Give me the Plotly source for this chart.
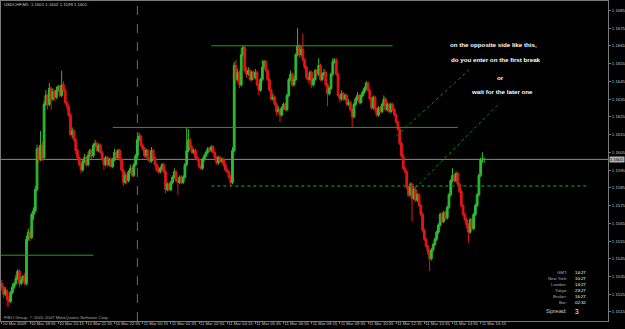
import pandas as pd
import plotly.graph_objects as go

# ---------------- data (prices in 1/10000 units, e.g. 11601 -> 1.1601) ----------------
start_time = "2009-03-10 17:35"

open_pips = [
    11531, 11529, 11525, 11527, 11522, 11521, 11526, 11529, 11531, 11534,
    11538, 11531, 11533, 11535, 11531, 11556, 11560, 11557, 11570, 11572,
    11584, 11607, 11601, 11609, 11602, 11632, 11637, 11632, 11641, 11635,
    11639, 11636, 11640, 11642, 11637, 11643, 11640, 11633, 11631, 11626,
    11615, 11617, 11612, 11606, 11602, 11598, 11595, 11600, 11602, 11598,
    11603, 11606, 11603, 11609, 11610, 11606, 11609, 11605, 11601, 11598,
    11602, 11598, 11601, 11597, 11601, 11605, 11602, 11606, 11601, 11595,
    11588, 11592, 11589, 11594, 11596, 11592, 11598, 11603, 11612, 11614,
    11609, 11607, 11603, 11606, 11601, 11600, 11606, 11602, 11598, 11595,
    11594, 11596, 11598, 11594, 11584, 11587, 11584, 11588, 11591, 11594,
    11589, 11588, 11591, 11588, 11591, 11598, 11606, 11612, 11608, 11605,
    11606, 11602, 11601, 11597, 11596, 11601, 11603, 11605, 11607, 11606,
    11608, 11605, 11602, 11599, 11602, 11600, 11601, 11598, 11595, 11594,
    11591, 11588, 11606, 11654, 11646, 11650, 11643, 11660, 11664, 11651,
    11649, 11651, 11646, 11650, 11647, 11650, 11643, 11640, 11646, 11653,
    11656, 11651, 11646, 11640, 11635, 11636, 11632, 11628, 11629, 11626,
    11630, 11632, 11629, 11637, 11646, 11649, 11643, 11646, 11660, 11665,
    11660, 11663, 11657, 11653, 11647, 11646, 11650, 11643, 11646, 11651,
    11649, 11654, 11646, 11649, 11650, 11643, 11638, 11641, 11649, 11656,
    11657, 11649, 11637, 11635, 11638, 11635, 11637, 11632, 11633, 11629,
    11625, 11632, 11635, 11637, 11633, 11637, 11639, 11641, 11644, 11640,
    11635, 11630, 11636, 11629, 11626, 11630, 11628, 11632, 11635, 11629,
    11632, 11628, 11632, 11629, 11626, 11622, 11618, 11610, 11603, 11596,
    11594, 11585, 11581, 11587, 11579, 11584, 11578, 11581, 11575, 11570,
    11561, 11556, 11552, 11549, 11545, 11550, 11553, 11556, 11560, 11564,
    11570, 11566, 11571, 11568, 11574, 11581, 11589, 11592, 11589, 11593,
    11587, 11583, 11575, 11570, 11567, 11564, 11560, 11567, 11562, 11570,
    11575, 11581, 11592, 11601, 11601,
]

high_pips = [
    11533, 11530, 11529, 11528, 11524, 11527, 11531, 11532, 11536, 11539,
    11539, 11535, 11536, 11537, 11558, 11562, 11563, 11571, 11574, 11586,
    11609, 11608, 11617, 11611, 11634, 11640, 11638, 11644, 11642, 11641,
    11640, 11642, 11643, 11643, 11651, 11645, 11641, 11634, 11632, 11627,
    11619, 11618, 11613, 11607, 11603, 11599, 11601, 11604, 11603, 11605,
    11607, 11607, 11610, 11612, 11611, 11610, 11610, 11606, 11602, 11603,
    11603, 11602, 11602, 11602, 11607, 11606, 11607, 11607, 11602, 11596,
    11594, 11593, 11595, 11598, 11597, 11599, 11604, 11614, 11616, 11615,
    11610, 11608, 11607, 11607, 11602, 11608, 11607, 11603, 11599, 11597,
    11597, 11599, 11599, 11595, 11588, 11588, 11589, 11592, 11596, 11595,
    11590, 11592, 11592, 11592, 11599, 11619, 11618, 11613, 11609, 11607,
    11607, 11603, 11602, 11598, 11602, 11604, 11606, 11608, 11608, 11609,
    11609, 11606, 11603, 11603, 11603, 11602, 11602, 11599, 11596, 11595,
    11592, 11608, 11656, 11657, 11652, 11651, 11664, 11665, 11665, 11653,
    11653, 11652, 11651, 11651, 11652, 11651, 11644, 11647, 11657, 11657,
    11657, 11652, 11647, 11641, 11638, 11637, 11633, 11631, 11630, 11631,
    11633, 11633, 11638, 11647, 11651, 11650, 11648, 11661, 11675, 11666,
    11665, 11672, 11658, 11654, 11648, 11651, 11651, 11647, 11652, 11652,
    11658, 11655, 11650, 11652, 11651, 11644, 11642, 11650, 11658, 11658,
    11658, 11650, 11638, 11640, 11639, 11638, 11638, 11635, 11634, 11630,
    11633, 11636, 11639, 11638, 11638, 11640, 11642, 11645, 11645, 11641,
    11636, 11637, 11637, 11630, 11631, 11631, 11633, 11637, 11636, 11633,
    11633, 11633, 11633, 11630, 11627, 11623, 11619, 11611, 11604, 11597,
    11595, 11586, 11588, 11588, 11586, 11585, 11582, 11582, 11576, 11571,
    11562, 11557, 11553, 11550, 11551, 11554, 11557, 11561, 11565, 11571,
    11571, 11572, 11572, 11575, 11582, 11590, 11596, 11593, 11594, 11594,
    11588, 11584, 11576, 11571, 11568, 11565, 11568, 11568, 11571, 11576,
    11582, 11593, 11602, 11605, 11602,
]

low_pips = [
    11527, 11523, 11524, 11518, 11518, 11520, 11525, 11528, 11530, 11533,
    11529, 11530, 11532, 11530, 11530, 11555, 11555, 11556, 11567, 11571,
    11583, 11599, 11600, 11600, 11601, 11631, 11629, 11631, 11629, 11634,
    11634, 11635, 11639, 11636, 11636, 11639, 11632, 11629, 11625, 11614,
    11613, 11611, 11604, 11601, 11597, 11593, 11594, 11599, 11597, 11597,
    11602, 11601, 11602, 11608, 11605, 11605, 11604, 11600, 11595, 11597,
    11597, 11597, 11596, 11596, 11600, 11601, 11601, 11600, 11594, 11586,
    11587, 11587, 11588, 11593, 11591, 11591, 11597, 11602, 11611, 11608,
    11606, 11602, 11602, 11600, 11599, 11599, 11601, 11597, 11594, 11593,
    11593, 11595, 11593, 11582, 11583, 11583, 11583, 11587, 11590, 11588,
    11581, 11587, 11587, 11587, 11590, 11597, 11605, 11607, 11604, 11604,
    11601, 11600, 11596, 11595, 11595, 11600, 11602, 11604, 11605, 11605,
    11604, 11601, 11598, 11598, 11599, 11599, 11597, 11594, 11593, 11590,
    11586, 11587, 11605, 11644, 11645, 11641, 11642, 11659, 11650, 11647,
    11648, 11645, 11645, 11646, 11646, 11642, 11637, 11639, 11645, 11652,
    11650, 11645, 11639, 11634, 11634, 11631, 11626, 11627, 11622, 11625,
    11629, 11628, 11628, 11636, 11645, 11642, 11642, 11645, 11659, 11658,
    11659, 11656, 11652, 11646, 11644, 11645, 11641, 11642, 11645, 11648,
    11648, 11645, 11645, 11648, 11642, 11631, 11637, 11640, 11648, 11655,
    11648, 11636, 11633, 11634, 11634, 11634, 11631, 11631, 11628, 11619,
    11624, 11631, 11634, 11632, 11632, 11636, 11638, 11640, 11639, 11634,
    11629, 11629, 11628, 11625, 11625, 11627, 11627, 11631, 11628, 11628,
    11627, 11627, 11628, 11625, 11621, 11617, 11609, 11602, 11595, 11593,
    11584, 11580, 11580, 11566, 11578, 11577, 11577, 11574, 11569, 11560,
    11555, 11551, 11547, 11538, 11544, 11549, 11552, 11555, 11559, 11563,
    11565, 11565, 11567, 11567, 11573, 11580, 11588, 11588, 11588, 11586,
    11582, 11574, 11569, 11566, 11562, 11554, 11559, 11561, 11561, 11569,
    11574, 11580, 11591, 11599, 11599,
]

close_pips = [
    11529, 11525, 11527, 11522, 11521, 11526, 11529, 11531, 11534, 11538,
    11531, 11533, 11535, 11531, 11556, 11560, 11557, 11570, 11572, 11584,
    11607, 11601, 11609, 11602, 11632, 11637, 11632, 11641, 11635, 11639,
    11636, 11640, 11642, 11637, 11643, 11640, 11633, 11631, 11626, 11615,
    11617, 11612, 11606, 11602, 11598, 11595, 11600, 11602, 11598, 11603,
    11606, 11603, 11609, 11610, 11606, 11609, 11605, 11601, 11598, 11602,
    11598, 11601, 11597, 11601, 11605, 11602, 11606, 11601, 11595, 11588,
    11592, 11589, 11594, 11596, 11592, 11598, 11603, 11612, 11614, 11609,
    11607, 11603, 11606, 11601, 11600, 11606, 11602, 11598, 11595, 11594,
    11596, 11598, 11594, 11584, 11587, 11584, 11588, 11591, 11594, 11589,
    11588, 11591, 11588, 11591, 11598, 11606, 11612, 11608, 11605, 11606,
    11602, 11601, 11597, 11596, 11601, 11603, 11605, 11607, 11606, 11608,
    11605, 11602, 11599, 11602, 11600, 11601, 11598, 11595, 11594, 11591,
    11588, 11606, 11654, 11646, 11650, 11643, 11660, 11664, 11651, 11649,
    11651, 11646, 11650, 11647, 11650, 11643, 11640, 11646, 11653, 11656,
    11651, 11646, 11640, 11635, 11636, 11632, 11628, 11629, 11626, 11630,
    11632, 11629, 11637, 11646, 11649, 11643, 11646, 11660, 11665, 11660,
    11663, 11657, 11653, 11647, 11646, 11650, 11643, 11646, 11651, 11649,
    11654, 11646, 11649, 11650, 11643, 11638, 11641, 11649, 11656, 11657,
    11649, 11637, 11635, 11638, 11635, 11637, 11632, 11633, 11629, 11625,
    11632, 11635, 11637, 11633, 11637, 11639, 11641, 11644, 11640, 11635,
    11630, 11636, 11629, 11626, 11630, 11628, 11632, 11635, 11629, 11632,
    11628, 11632, 11629, 11626, 11622, 11618, 11610, 11603, 11596, 11594,
    11585, 11581, 11587, 11579, 11584, 11578, 11581, 11575, 11570, 11561,
    11556, 11552, 11549, 11545, 11550, 11553, 11556, 11560, 11564, 11570,
    11566, 11571, 11568, 11574, 11581, 11589, 11592, 11589, 11593, 11587,
    11583, 11575, 11570, 11567, 11564, 11560, 11567, 11562, 11570, 11575,
    11581, 11592, 11601, 11601, 11601,
]

tick_times = [
    "2009-03-10 17:35", "2009-03-10 18:55", "2009-03-10 20:15", "2009-03-10 21:35",
    "2009-03-10 22:55", "2009-03-11 00:15", "2009-03-11 01:35", "2009-03-11 02:55",
    "2009-03-11 04:15", "2009-03-11 05:35", "2009-03-11 06:55", "2009-03-11 08:15",
    "2009-03-11 09:35", "2009-03-11 10:55", "2009-03-11 12:15", "2009-03-11 13:35",
    "2009-03-11 14:55", "2009-03-11 16:15",
]
tick_text = [
    "10 Mar 2009", "10 Mar 18:55", "10 Mar 20:15", "10 Mar 21:35",
    "10 Mar 22:55", "11 Mar 00:15", "11 Mar 01:35", "11 Mar 02:55",
    "11 Mar 04:15", "11 Mar 05:35", "11 Mar 06:55", "11 Mar 08:15",
    "11 Mar 09:35", "11 Mar 10:55", "11 Mar 12:15", "11 Mar 13:35",
    "11 Mar 14:55", "11 Mar 16:15",
]
price_ticks = [1.1515, 1.1525, 1.1535, 1.1545, 1.1555, 1.1565, 1.1575, 1.1585, 1.1595,
               1.1605, 1.1615, 1.1625, 1.1635, 1.1645, 1.1655, 1.1665, 1.1675, 1.1685]

# horizontal support / resistance levels
level_price = [1.1665, 1.1619, 1.1586, 1.1547]
level_start = ["2009-03-11 03:30", "2009-03-10 22:50", "2009-03-11 03:30", "2009-03-10 17:30"]
level_end = ["2009-03-11 12:05", "2009-03-11 15:10", "2009-03-11 21:15", "2009-03-10 21:55"]

# diagonal trend lines
trend_t0 = ["2009-03-11 12:15", "2009-03-11 12:45"]
trend_p0 = [1.1614, 1.1580]
trend_t1 = ["2009-03-11 15:45", "2009-03-11 17:10"]
trend_p1 = [1.1652, 1.1633]

separator_time = "2009-03-11 00:00"

header_text = "USDCHF,M5  1.1601 1.1602 1.1599 1.1601"
copyright_text = "FIBO Group, \u00a9 2001-2007 MetaQuotes Software Corp."
clock_labels = ["GMT:", "New York:", "London:", "Tokyo:", "Broker:", "Bar:"]
clock_values = ["14:27", "10:27", "14:27", "23:27", "16:27", "02:32"]
spread_value = "3"
comment_lines = ["on the opposite side like this,", "do you enter on the first break",
                 "or", "wait for the later one"]

# ---------------- figure ----------------
scale = 10000.0
times = pd.date_range(start_time, periods=len(close_pips), freq="5min")
o = [v / scale for v in open_pips]
h = [v / scale for v in high_pips]
l = [v / scale for v in low_pips]
c = [v / scale for v in close_pips]

UP = "#2fbb2f"
DN = "#e21616"
FONT = "Liberation Sans"
AXIS_COL = "#7a7a7a"
TXT_COL = "#c8c8c8"

fig = go.Figure()

fig.add_trace(go.Candlestick(
    x=times, open=o, high=h, low=l, close=c,
    increasing=dict(line=dict(color=UP, width=1), fillcolor=UP),
    decreasing=dict(line=dict(color=DN, width=1), fillcolor=DN),
    whiskerwidth=0, hoverinfo="skip", showlegend=False,
))

for i, p in enumerate(level_price):
    dotted = (i == 2)
    fig.add_trace(go.Scatter(
        x=[level_start[i], level_end[i]], y=[p, p], mode="lines",
        line=dict(color="#0d7d0d" if dotted else "#14a814",
                  width=1.6 if dotted else 1, dash="dot" if dotted else "solid"),
        hoverinfo="skip", showlegend=False,
    ))

for i in range(len(trend_t0)):
    fig.add_trace(go.Scatter(
        x=[trend_t0[i], trend_t1[i]], y=[trend_p0[i], trend_p1[i]], mode="lines",
        line=dict(color="#0f8a0f", width=1, dash="dot"),
        hoverinfo="skip", showlegend=False,
    ))

last_price = c[-1]
shapes = [
    dict(type="line", xref="x", yref="paper", x0=separator_time, x1=separator_time,
         y0=0, y1=1, line=dict(color="#6a6a6a", width=1, dash="dash"), layer="below"),
    dict(type="line", xref="paper", yref="y", x0=0, x1=1, y0=last_price, y1=last_price,
         line=dict(color="#8c8c8c", width=1), layer="below"),
]

annotations = [
    dict(text=header_text, xref="paper", yref="paper", x=0.002, y=0.9875,
         xanchor="left", yanchor="middle", showarrow=False,
         font=dict(family=FONT, size=4.3, color=TXT_COL)),
    dict(text=copyright_text, xref="paper", yref="paper", x=0.002, y=0.0125,
         xanchor="left", yanchor="middle", showarrow=False,
         font=dict(family=FONT, size=4.3, color="#a8a8a8")),
    dict(text="%.4f" % last_price, xref="paper", yref="y", x=1.0, y=last_price,
         xanchor="left", yanchor="middle", showarrow=False, bgcolor="#b0b0b0",
         borderpad=0, xshift=1, font=dict(family=FONT, size=4.3, color="#000000")),
]

clock_y = [0.151, 0.132, 0.1135, 0.096, 0.0759, 0.0572]
for lab, val, yy in zip(clock_labels, clock_values, clock_y):
    annotations.append(dict(text=lab, xref="paper", yref="paper", x=0.9353, y=yy,
                            xanchor="right", yanchor="middle", showarrow=False,
                            font=dict(family=FONT, size=4.3, color="#b0b0b0")))
    annotations.append(dict(text=val, xref="paper", yref="paper", x=0.9428, y=yy,
                            xanchor="left", yanchor="middle", showarrow=False,
                            font=dict(family=FONT, size=4.3, color="#ffffff")))
annotations.append(dict(text="Spread:", xref="paper", yref="paper", x=0.9353, y=0.031,
                        xanchor="right", yanchor="middle", showarrow=False,
                        font=dict(family=FONT, size=6, color="#c8c8c8")))
annotations.append(dict(text=spread_value, xref="paper", yref="paper", x=0.9428, y=0.031,
                        xanchor="left", yanchor="middle", showarrow=False,
                        font=dict(family=FONT, size=6.5, color="#ffffff")))

comment_x = [0.8117, 0.8163, 0.8221, 0.8259]
comment_y = [0.8625, 0.8178, 0.7603, 0.7166]
for txt, xx, yy in zip(comment_lines, comment_x, comment_y):
    annotations.append(dict(text="<b>%s</b>" % txt, xref="paper", yref="paper", x=xx, y=yy,
                            xanchor="center", yanchor="middle", showarrow=False,
                            font=dict(family=FONT, size=6.2, color="#ffffff")))

fig.update_layout(
    width=625, height=329,
    margin=dict(l=1, r=17, t=1, b=8, autoexpand=False),
    paper_bgcolor="#000000", plot_bgcolor="#000000",
    showlegend=False, boxgap=0.0, boxgroupgap=0.0,
    shapes=shapes, annotations=annotations,
    xaxis=dict(
        type="date", range=["2009-03-10 17:32:38", "2009-03-11 22:16:36"],
        rangeslider=dict(visible=False), showgrid=False, zeroline=False,
        showline=True, linecolor=AXIS_COL, linewidth=1, mirror=True,
        ticks="outside", ticklen=2, tickcolor=AXIS_COL,
        tickvals=tick_times, ticktext=tick_text, ticklabelposition="outside right",
        tickangle=0, ticklabelstandoff=-2,
        tickfont=dict(family=FONT, size=4.2, color=TXT_COL), fixedrange=True,
    ),
    yaxis=dict(
        side="right", range=[1.150992, 1.169024], showgrid=False, zeroline=False,
        showline=True, linecolor=AXIS_COL, linewidth=1, mirror=True,
        ticks="outside", ticklen=2, tickcolor=AXIS_COL,
        tickvals=price_ticks, ticktext=["%.4f" % v for v in price_ticks],
        tickfont=dict(family=FONT, size=4.3, color=TXT_COL), fixedrange=True,
    ),
)

fig.write_html("out.html")
